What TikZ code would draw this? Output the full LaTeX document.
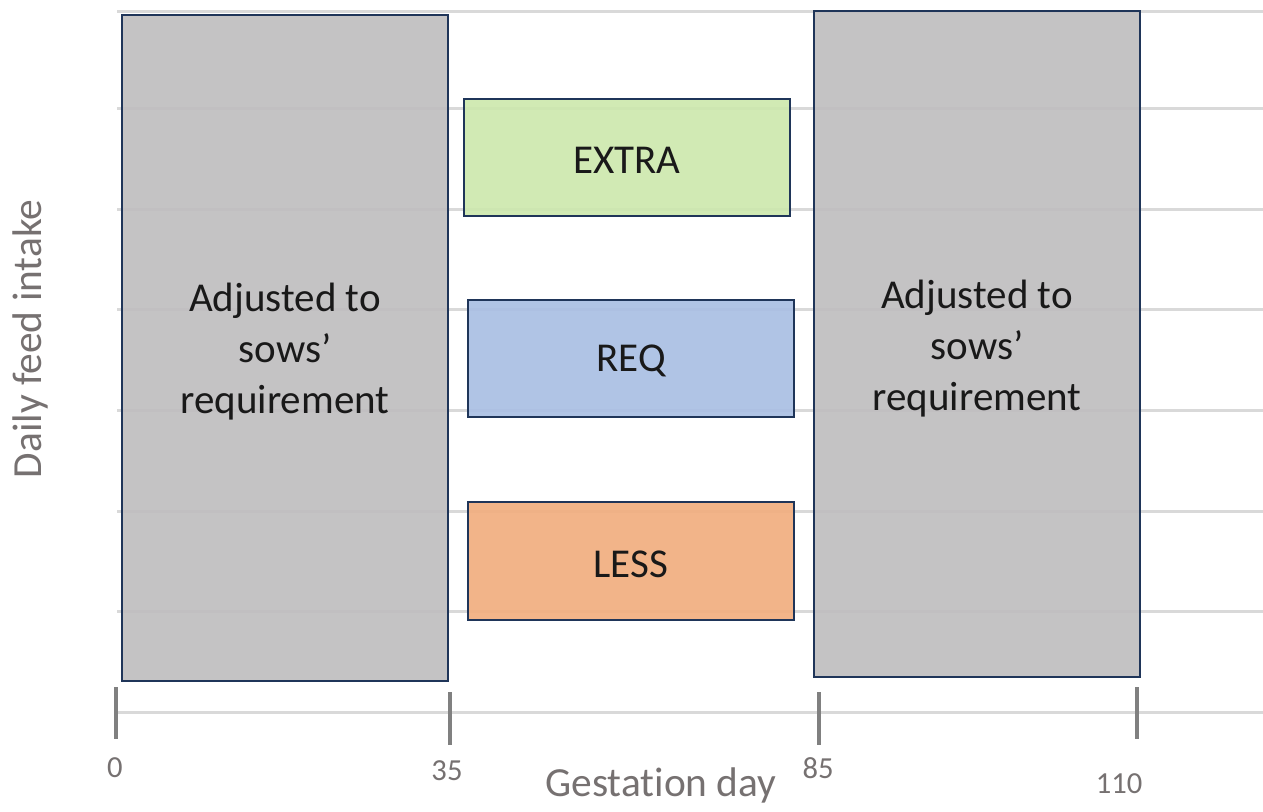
\documentclass[tikz,border=0pt]{standalone}
\usepackage{fontspec}
\setmainfont{Carlito}[Ligatures=NoCommon]
\definecolor{gridc}{HTML}{D9D9D9}
\definecolor{tickc}{HTML}{808080}
\definecolor{axtext}{HTML}{767171}
\definecolor{edgec}{HTML}{1F3559}
\definecolor{grayfill}{HTML}{C0BEC0}
\definecolor{greenfill}{HTML}{CDE8AE}
\definecolor{bluefill}{HTML}{AABFE3}
\definecolor{orangefill}{HTML}{F1AE80}
\tikzset{
  gridline/.style={draw=gridc, line width=1.5pt},
  tickline/.style={draw=tickc, line width=2pt},
  phase/.style={draw=edgec, line width=1pt, fill opacity=0.93,
    inner sep=0pt, minimum width=163pt},
  phasetext/.style={inner sep=0pt, align=center, text=black!90,
    font=\fontsize{20.5}{25.5}\selectfont},
  ticklabel/.style={text=axtext, font=\fontsize{15.3}{18}\selectfont, inner sep=0pt},
  axislabel/.style={text=axtext, font=\fontsize{20.7}{25}\selectfont, inner sep=0pt}
}
\begin{document}
\begin{tikzpicture}[x=0.5pt, y=-0.5pt]
\useasboundingbox (0,0) rectangle (1263,811);
% horizontal gridlines
\foreach \gy in {11,108,209,309,410,511,611,712}
  \draw[gridline] (117,\gy) -- (1263,\gy);
% feeding phases
\node[phase, fill=grayfill, minimum height=333pt] (early) at (285,348) {};
\node[phase, fill=grayfill, minimum height=333pt] (late) at (977,344) {};
\node[phase, fill=greenfill, minimum height=58.5pt] (extra) at (627,157.5) {};
\node[phase, fill=bluefill, minimum height=58.5pt] (req) at (631,358.5) {};
\node[phase, fill=orangefill, minimum height=59pt] (less) at (631,561) {};
% phase captions
\node[phasetext] (earlytxt) at ([yshift=-2pt]early.center) {Adjusted to\\sows’\\requirement};
\node[phasetext] (latetxt) at ([yshift=-2.5pt]late.center) {Adjusted to\\sows’\\requirement};
\node[phasetext] (extratxt) at ([yshift=-1.5pt]extra.center) {EXTRA};
\node[phasetext] (reqtxt) at ([yshift=-1pt]req.center) {REQ};
\node[phasetext] (lesstxt) at ([yshift=-1.5pt]less.center) {LESS};
% axis ticks
\draw[tickline] (116,687) -- (116,739);
\draw[tickline] (450,692) -- (450,745);
\draw[tickline] (819,692) -- (819,745);
\draw[tickline] (1137,687) -- (1137,739);
% tick labels
\node[ticklabel] (t0) at (115,768) {0};
\node[ticklabel] (t35) at (447,771) {35};
\node[ticklabel] (t85) at (818,768) {85};
\node[ticklabel] (t110) at (1119,784) {110};
% axis titles
\node[axislabel, anchor=base] (xlab) at (661,796) {Gestation day};
\node[axislabel, rotate=90] (ylab) at (30,339) {Daily feed intake};
\end{tikzpicture}
\end{document}
